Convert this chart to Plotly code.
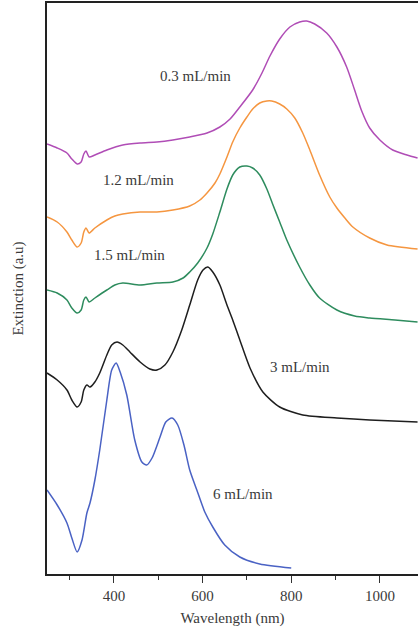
import plotly.graph_objects as go

# Extinction spectra at different flow rates (wavelength in nm, extinction in a.u.)
wl_03 = [249, 272, 294, 305, 317, 326, 332, 337, 344, 357, 384, 420, 459, 497, 533, 571, 610, 639,
         662, 684, 713, 734, 752, 774, 797, 819, 835, 853, 880, 903, 925, 943, 959, 977, 1000,
         1029, 1061, 1085]
ext_03 = [4.30, 4.26, 4.21, 4.15, 4.10, 4.12, 4.20, 4.23, 4.17, 4.19, 4.24, 4.29, 4.31, 4.32, 4.34,
          4.37, 4.41, 4.47, 4.55, 4.67, 4.84, 5.01, 5.18, 5.35, 5.47, 5.52, 5.53, 5.50, 5.41,
          5.27, 5.07, 4.84, 4.63, 4.46, 4.34, 4.24, 4.19, 4.16]

wl_12 = [249, 272, 294, 305, 317, 326, 332, 337, 344, 357, 384, 402, 420, 459, 497, 533, 571, 594,
         610, 628, 639, 655, 668, 684, 700, 713, 729, 745, 756, 774, 790, 808, 826, 842, 864, 887,
         903, 921, 939, 977, 1016, 1085]
ext_12 = [3.57, 3.52, 3.42, 3.34, 3.27, 3.31, 3.42, 3.46, 3.41, 3.46, 3.54, 3.58, 3.60, 3.62, 3.62,
          3.64, 3.68, 3.74, 3.81, 3.91, 4.00, 4.17, 4.32, 4.46, 4.57, 4.65, 4.71, 4.73, 4.73, 4.70,
          4.65, 4.56, 4.41, 4.24, 3.99, 3.77, 3.66, 3.56, 3.47, 3.36, 3.29, 3.25]

wl_15 = [249, 272, 294, 305, 317, 326, 332, 337, 344, 357, 384, 402, 420, 459, 497, 533, 556, 571,
         589, 610, 623, 639, 655, 668, 684, 700, 713, 729, 745, 758, 774, 790, 819, 842, 864, 903,
         943, 977, 1034, 1085]
ext_15 = [2.84, 2.81, 2.74, 2.66, 2.61, 2.64, 2.74, 2.77, 2.72, 2.76, 2.84, 2.89, 2.91, 2.89, 2.91,
          2.92, 2.96, 3.02, 3.11, 3.26, 3.40, 3.62, 3.85, 3.99, 4.07, 4.08, 4.06, 3.99, 3.85, 3.70,
          3.52, 3.34, 3.07, 2.89, 2.76, 2.64, 2.58, 2.56, 2.54, 2.52]

wl_3 = [249, 272, 294, 305, 317, 326, 332, 339, 346, 357, 368, 384, 395, 407, 420, 436, 459, 481,
        497, 515, 533, 553, 571, 589, 601, 612, 623, 639, 655, 668, 684, 707, 736, 774, 826, 903,
        977, 1085]
ext_3 = [2.01, 1.94, 1.84, 1.74, 1.67, 1.72, 1.84, 1.89, 1.87, 1.92, 2.01, 2.19, 2.29, 2.32, 2.29,
         2.22, 2.12, 2.05, 2.04, 2.09, 2.22, 2.44, 2.69, 2.94, 3.04, 3.07, 3.02, 2.89, 2.69, 2.54,
         2.34, 2.06, 1.82, 1.67, 1.59, 1.56, 1.54, 1.52]

wl_6 = [249, 272, 294, 305, 317, 328, 339, 346, 357, 368, 384, 395, 405, 414, 429, 447, 463, 474,
        486, 504, 517, 531, 544, 558, 571, 587, 605, 623, 650, 684, 729, 800]
ext_6 = [0.84, 0.69, 0.51, 0.36, 0.22, 0.34, 0.61, 0.71, 0.94, 1.24, 1.74, 2.04, 2.11, 2.02, 1.79,
         1.34, 1.12, 1.09, 1.16, 1.37, 1.52, 1.56, 1.49, 1.29, 1.04, 0.84, 0.62, 0.47, 0.29, 0.17,
         0.10, 0.06]

series = [
    ("0.3 mL/min", wl_03, ext_03, "#b04db6", 585, 4.98),
    ("1.2 mL/min", wl_12, ext_12, "#f59640", 456, 3.94),
    ("1.5 mL/min", wl_15, ext_15, "#2e8c5e", 434, 3.19),
    ("3 mL/min", wl_3, ext_3, "#1e1e1e", 820, 2.07),
    ("6 mL/min", wl_6, ext_6, "#4a62c4", 691, 0.80),
]

serif = "Liberation Serif, Times New Roman, serif"
text_color = "#3a3a3a"

fig = go.Figure()
for name, x, y, color, lx, ly in series:
    fig.add_trace(go.Scatter(
        x=x, y=y, mode="lines", name=name,
        line=dict(color=color, width=1.5, shape="spline", smoothing=0.7),
    ))
    fig.add_annotation(
        x=lx, y=ly, text=name, showarrow=False,
        font=dict(family=serif, size=15, color=text_color),
    )

fig.update_layout(
    width=418, height=635,
    margin=dict(l=47, r=0, t=3, b=61),
    paper_bgcolor="white", plot_bgcolor="white",
    showlegend=False,
    font=dict(family=serif, size=14, color=text_color),
)
fig.update_xaxes(
    range=[249, 1086],
    tickvals=[400, 600, 800, 1000],
    ticks="outside", ticklen=7, tickwidth=1.2, tickcolor="#333",
    minor=dict(tickvals=[300, 500, 700, 900], ticks="outside", ticklen=4, tickwidth=1.2, tickcolor="#333"),
    showline=True, linecolor="#222", linewidth=1.5, mirror=True,
    showgrid=False, zeroline=False,
    tickfont=dict(family=serif, size=15, color=text_color),
    title=dict(text="Wavelength (nm)", font=dict(family=serif, size=15, color=text_color), standoff=10),
)
fig.update_yaxes(
    range=[0, 5.71],
    showticklabels=False, ticks="",
    showline=True, linecolor="#222", linewidth=1.5,
    showgrid=False, zeroline=False,
    title=dict(text="Extinction (a.u)", font=dict(family=serif, size=15, color=text_color), standoff=18),
)

fig.write_html("out.html")
